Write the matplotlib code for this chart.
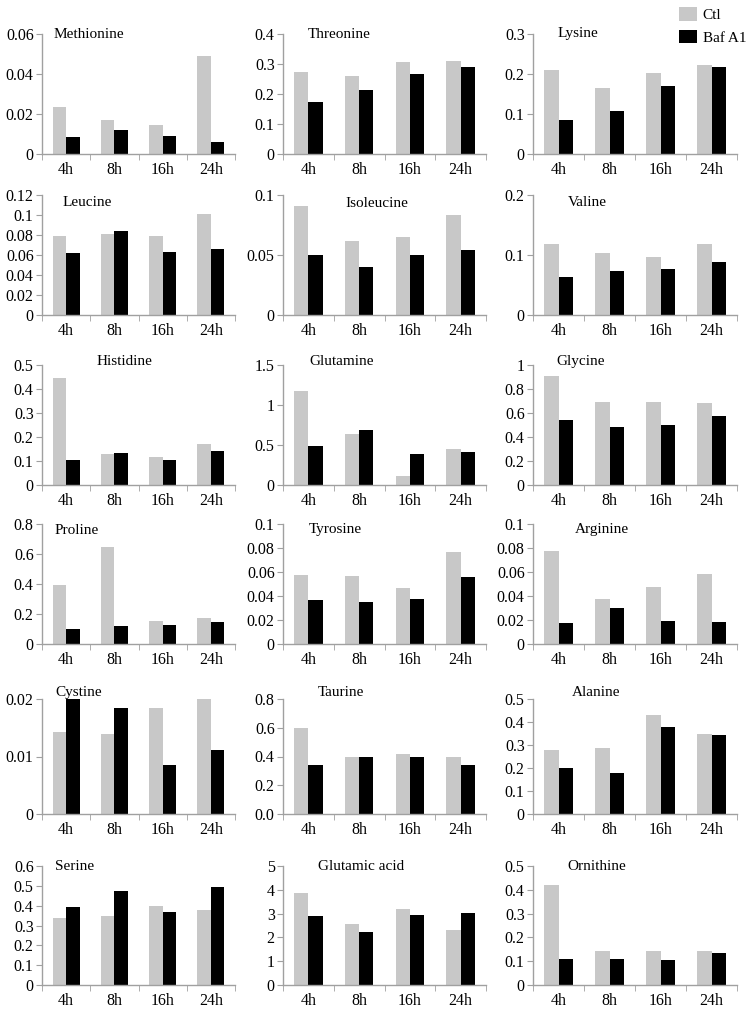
import matplotlib
matplotlib.use("Agg")
import matplotlib.pyplot as plt
import numpy as np
from matplotlib.patches import Patch
from matplotlib.ticker import FuncFormatter

plt.rcParams['font.family'] = ['Liberation Serif', 'DejaVu Serif']

times = ["4h", "8h", "16h", "24h"]
series_names = ["Ctl", "Baf A1"]

names = ["Methionine", "Threonine", "Lysine",
         "Leucine", "Isoleucine", "Valine",
         "Histidine", "Glutamine", "Glycine",
         "Proline", "Tyrosine", "Arginine",
         "Cystine", "Taurine", "Alanine",
         "Serine", "Glutamic acid", "Ornithine"]

ctl = [
    [0.0235, 0.0168, 0.0142, 0.0491],
    [0.272, 0.258, 0.307, 0.308],
    [0.210, 0.164, 0.202, 0.221],
    [0.0788, 0.0808, 0.0788, 0.1007],
    [0.0906, 0.0618, 0.0651, 0.0837],
    [0.119, 0.103, 0.0975, 0.119],
    [0.446, 0.130, 0.118, 0.170],
    [1.18, 0.64, 0.108, 0.45],
    [0.908, 0.690, 0.690, 0.686],
    [0.393, 0.649, 0.151, 0.173],
    [0.0575, 0.0564, 0.0467, 0.0769],
    [0.0775, 0.0375, 0.0478, 0.0580],
    [0.0143, 0.0139, 0.0184, 0.0200],
    [0.600, 0.395, 0.417, 0.395],
    [0.280, 0.287, 0.430, 0.350],
    [0.338, 0.348, 0.400, 0.380],
    [3.87, 2.56, 3.19, 2.31],
    [0.420, 0.143, 0.143, 0.143],
]

baf = [
    [0.0085, 0.0116, 0.0090, 0.0060],
    [0.171, 0.213, 0.267, 0.288],
    [0.085, 0.106, 0.169, 0.216],
    [0.0625, 0.0841, 0.0632, 0.0665],
    [0.0499, 0.0402, 0.0499, 0.0540],
    [0.064, 0.0726, 0.077, 0.088],
    [0.106, 0.132, 0.103, 0.141],
    [0.483, 0.688, 0.3875, 0.41],
    [0.544, 0.480, 0.503, 0.578],
    [0.098, 0.118, 0.129, 0.147],
    [0.0364, 0.0350, 0.0375, 0.0561],
    [0.0175, 0.0297, 0.0194, 0.0180],
    [0.0200, 0.0184, 0.0085, 0.0111],
    [0.340, 0.400, 0.395, 0.340],
    [0.200, 0.180, 0.378, 0.343],
    [0.395, 0.475, 0.370, 0.495],
    [2.90, 2.23, 2.94, 3.02],
    [0.110, 0.110, 0.105, 0.134],
]

y_max = [0.06, 0.4, 0.3, 0.12, 0.1, 0.2, 0.5, 1.5, 1.0,
         0.8, 0.1, 0.1, 0.02, 0.8, 0.5, 0.6, 5, 0.5]
y_step = [0.02, 0.1, 0.1, 0.02, 0.05, 0.1, 0.1, 0.5, 0.2,
          0.2, 0.02, 0.02, 0.01, 0.2, 0.1, 0.1, 1, 0.1]
y_fmt = ["g"] * 13 + [".1f"] + ["g"] * 4

# ---- layout (pixels) ----
W, H = 754, 1019
col_x = [(42, 235), (283, 486), (533, 737)]
row_y = [(34, 153.5), (195, 315), (365, 485), (524, 644), (699, 814), (866, 985)]
title_pos = [(0.062, 1.0), (0.123, 1.0), (0.118, 1.0),
             (0.104, 0.94), (0.305, 0.93), (0.17, 0.94),
             (0.28, 1.03), (0.128, 1.03), (0.113, 1.03),
             (0.067, 0.95), (0.128, 0.95), (0.206, 0.95),
             (0.067, 1.06), (0.17, 1.06), (0.19, 1.06),
             (0.067, 1.0), (0.17, 1.0), (0.167, 1.0)]

GRAY = '#c8c8c8'
AXC = '#a0a0a0'
FS = 11.5
TFS = 11

fig = plt.figure(figsize=(W / 100, H / 100), dpi=100)

x = np.arange(len(times))
bw = 0.28
for i, name in enumerate(names):
    r, c = divmod(i, 3)
    x0, x1 = col_x[c]
    yt, yb = row_y[r]
    ax = fig.add_axes([x0 / W, 1 - yb / H, (x1 - x0) / W, (yb - yt) / H])
    ax.bar(x - bw / 2, ctl[i], bw, color=GRAY, zorder=2)
    ax.bar(x + bw / 2, baf[i], bw, color='black', zorder=2)
    ax.set_xlim(-0.5, 3.5)
    ax.set_ylim(0, y_max[i])
    ticks = np.arange(0, y_max[i] + y_step[i] / 2, y_step[i])
    ax.set_yticks(ticks)
    fmt = y_fmt[i]
    ax.yaxis.set_major_formatter(FuncFormatter(lambda v, p, f=fmt: format(round(v, 6), f)))
    ax.set_xticks(x)
    ax.set_xticklabels(times)
    ax.set_xticks(np.arange(-0.5, 4.0, 1.0), minor=True)
    ax.tick_params(axis='x', which='major', length=0, pad=6, labelsize=FS)
    ax.tick_params(axis='x', which='minor', length=4, color=AXC, direction='out')
    ax.tick_params(axis='y', length=4, color=AXC, direction='out', pad=2, labelsize=FS)
    for s in ['top', 'right']:
        ax.spines[s].set_visible(False)
    for s in ['left', 'bottom']:
        ax.spines[s].set_color(AXC)
        ax.spines[s].set_linewidth(1.0)
    ax.set_facecolor('none')
    tx, ty = title_pos[i]
    ax.text(tx, ty, name, transform=ax.transAxes, ha='left', va='center',
            fontsize=TFS)

handles = [Patch(facecolor=GRAY, edgecolor='none'), Patch(facecolor='black', edgecolor='none')]
fig.legend(handles, series_names, loc='upper left',
           bbox_to_anchor=(676 / W, 1 - 4 / H), frameon=False,
           fontsize=TFS, handlelength=1.15, handleheight=1.0,
           handletextpad=0.4, labelspacing=0.5, borderpad=0.2, borderaxespad=0)

fig.savefig("out.png", dpi=100)
